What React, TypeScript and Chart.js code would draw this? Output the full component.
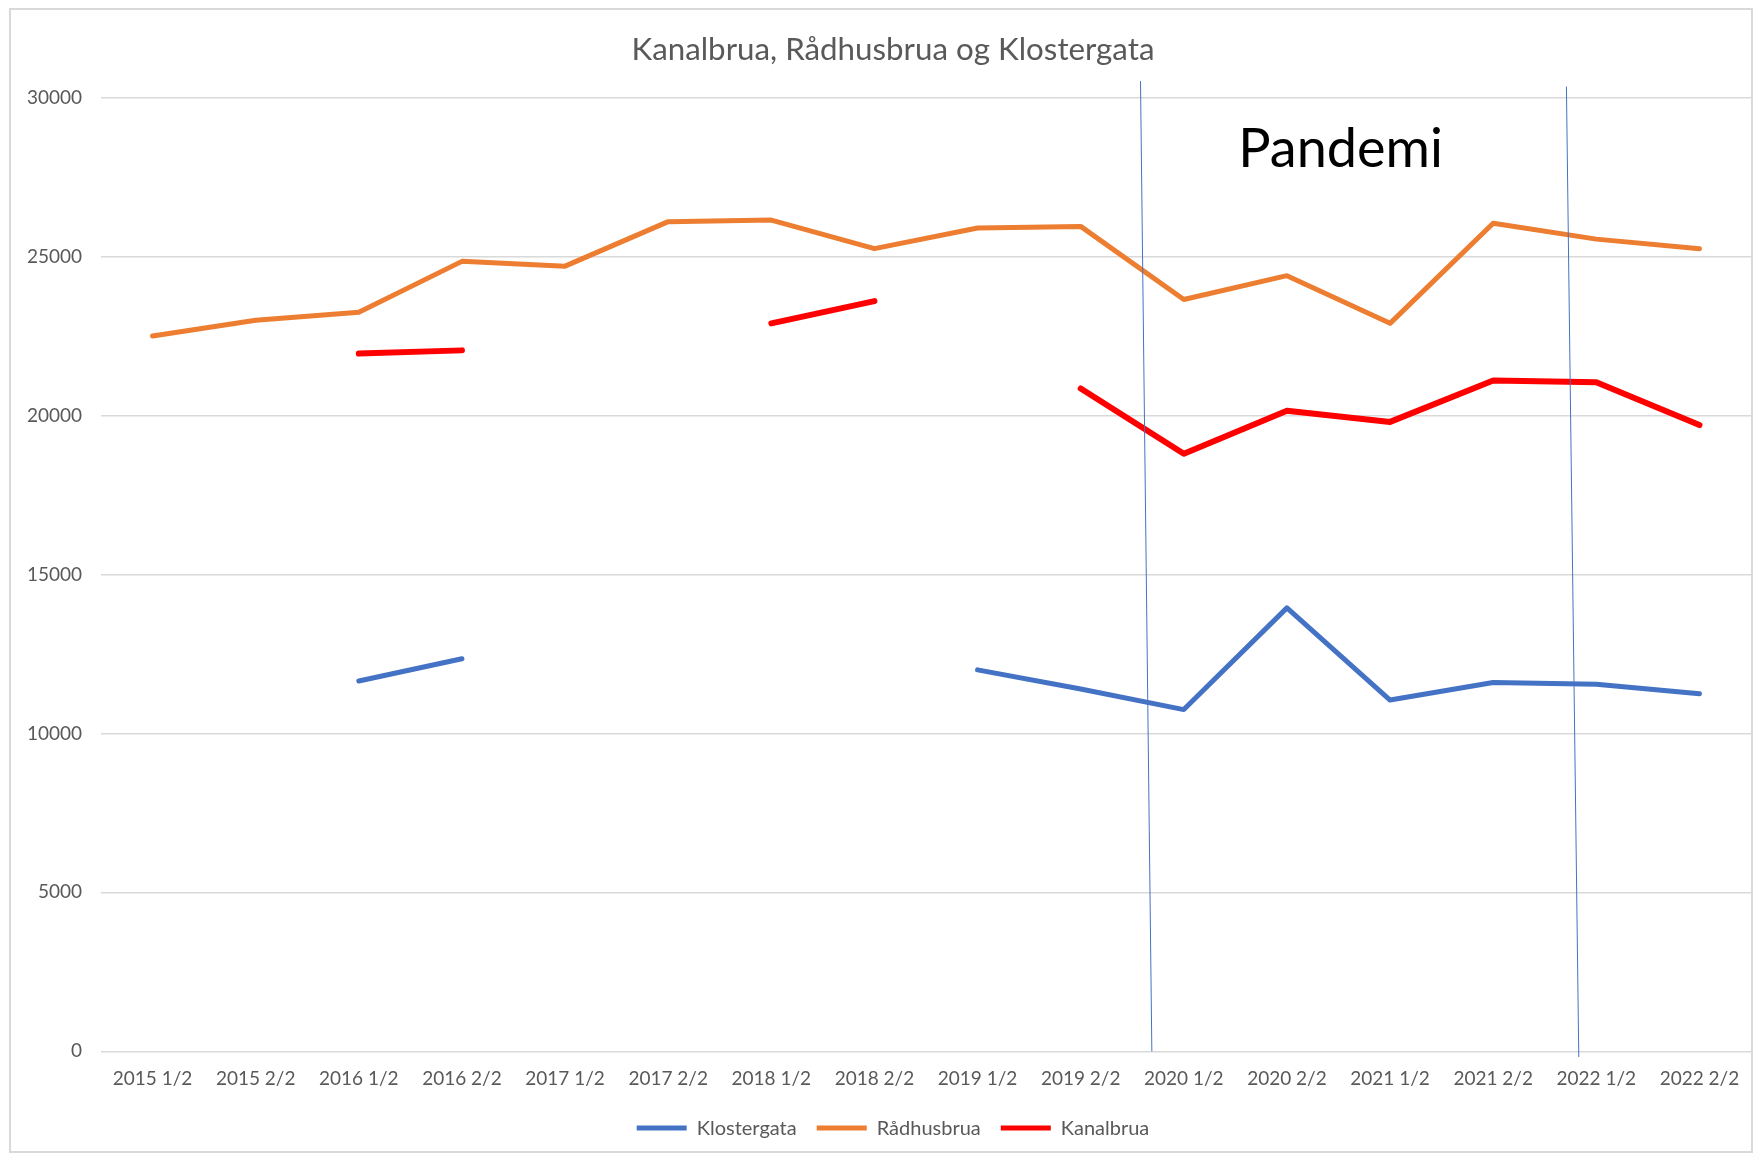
import { useEffect, useRef } from 'react';
import { Chart, registerables } from 'chart.js';

Chart.register(...registerables);

const categories = [
  '2015 1/2', '2015 2/2', '2016 1/2', '2016 2/2', '2017 1/2', '2017 2/2', '2018 1/2', '2018 2/2',
  '2019 1/2', '2019 2/2', '2020 1/2', '2020 2/2', '2021 1/2', '2021 2/2', '2022 1/2', '2022 2/2',
];

const klostergata = [null, null, 11650, 12350, null, null, null, null, 12000, 11400, 10750, 13950, 11050, 11600, 11550, 11250];
const radhusbrua = [22500, 23000, 23250, 24850, 24700, 26100, 26150, 25250, 25900, 25950, 23650, 24400, 22900, 26050, 25550, 25250];
const kanalbrua = [null, null, 21950, 22050, null, null, 22900, 23600, null, 20850, 18800, 20150, 19800, 21100, 21050, 19700];

const yMin = 0;
const yMax = 30000;
const yStep = 5000;

// Hand-drawn markers of the pandemic period (in category index / value units)
const pandemicLines = [
  { x1: 9.58, y1: 30520, x2: 9.69, y2: 0 },
  { x1: 13.71, y1: 30350, x2: 13.83, y2: -180 },
];
const pandemicLabel = { text: 'Pandemi', x: 11.52, y: 28370 };

const TEXT = '#595959';
const FONT = 'Lato';

const pandemicPlugin = {
  id: 'pandemic',
  afterDatasetsDraw(chart: any) {
    const { ctx, scales } = chart;
    const x = scales.x;
    const y = scales.y;
    ctx.save();
    ctx.strokeStyle = '#4472C4';
    ctx.lineWidth = 1;
    pandemicLines.forEach((l) => {
      ctx.beginPath();
      ctx.moveTo(x.getPixelForValue(l.x1), y.getPixelForValue(l.y1));
      ctx.lineTo(x.getPixelForValue(l.x2), y.getPixelForValue(l.y2));
      ctx.stroke();
    });
    ctx.fillStyle = '#000000';
    ctx.font = `54px ${FONT}`;
    ctx.textAlign = 'center';
    ctx.textBaseline = 'middle';
    ctx.fillText(pandemicLabel.text, x.getPixelForValue(pandemicLabel.x), y.getPixelForValue(pandemicLabel.y));
    ctx.restore();
  },
};

export default function App() {
  const canvasRef = useRef<HTMLCanvasElement | null>(null);

  useEffect(() => {
    if (!canvasRef.current) return;
    const lineStyle = {
      pointRadius: 0,
      borderCapStyle: 'round',
      borderJoinStyle: 'round',
      tension: 0,
    };
    const chart = new Chart(canvasRef.current, {
      type: 'line',
      data: {
        labels: categories,
        datasets: [
          {
            label: 'Klostergata',
            data: klostergata,
            borderColor: '#4472C4',
            backgroundColor: '#4472C4',
            borderWidth: 5,
            ...lineStyle,
          },
          {
            label: 'Rådhusbrua',
            data: radhusbrua,
            borderColor: '#ED7D31',
            backgroundColor: '#ED7D31',
            borderWidth: 5,
            ...lineStyle,
          },
          {
            label: 'Kanalbrua',
            data: kanalbrua,
            borderColor: '#FF0000',
            backgroundColor: '#FF0000',
            borderWidth: 6,
            ...lineStyle,
          },
        ],
      },
      options: {
        responsive: false,
        animation: false,
        devicePixelRatio: 1,
        layout: { padding: { left: 13, right: 0, top: 0, bottom: 2.9 } },
        plugins: {
          title: {
            display: true,
            text: 'Kanalbrua, Rådhusbrua og Klostergata',
            color: TEXT,
            font: { family: FONT, size: 31.3, weight: 'normal', lineHeight: 1.2 },
            padding: { top: 21.2, bottom: 28.9 },
          },
          legend: {
            display: true,
            position: 'bottom',
            labels: {
              color: TEXT,
              font: { family: FONT, size: 20 },
              boxWidth: 50,
              boxHeight: 5,
              padding: 20,
              generateLabels: (c: any) =>
                (Chart.defaults.plugins.legend.labels as any).generateLabels(c).map((l: any) => ({ ...l, lineWidth: 0 })),
            },
          },
          tooltip: { enabled: false },
        },
        scales: {
          x: {
            offset: true,
            grid: { display: false, drawTicks: false },
            border: { display: false },
            ticks: { color: TEXT, font: { family: FONT, size: 19 }, padding: 16, maxRotation: 0, autoSkip: false },
            afterFit: (s: any) => { s.height = 46.8; },
          },
          y: {
            min: yMin,
            max: yMax,
            grid: { color: '#d9d9d9', lineWidth: 1.5, drawTicks: false },
            border: { display: false },
            ticks: {
              stepSize: yStep,
              color: TEXT,
              font: { family: FONT, size: 19 },
              padding: 19,
              callback: (v: any) => String(v),
            },
            afterFit: (s: any) => { s.width = 77; },
          },
          yRightSpacer: {
            position: 'right',
            min: 0,
            max: 1,
            grid: { display: false, drawTicks: false },
            border: { display: false },
            ticks: { display: false },
            afterFit: (s: any) => { s.width = 11; },
          },
        },
      },
      plugins: [pandemicPlugin],
    } as any);
    return () => chart.destroy();
  }, []);

  return (
    <div
      style={{
        position: 'absolute',
        left: 9,
        top: 8,
        width: 1744,
        height: 1145,
        border: '2px solid #d9d9d9',
        boxSizing: 'border-box',
        background: '#ffffff',
        overflow: 'hidden',
      }}
    >
      <canvas ref={canvasRef} width={1751} height={1141} style={{ display: 'block', width: 1751, height: 1141 }} />
    </div>
  );
}
